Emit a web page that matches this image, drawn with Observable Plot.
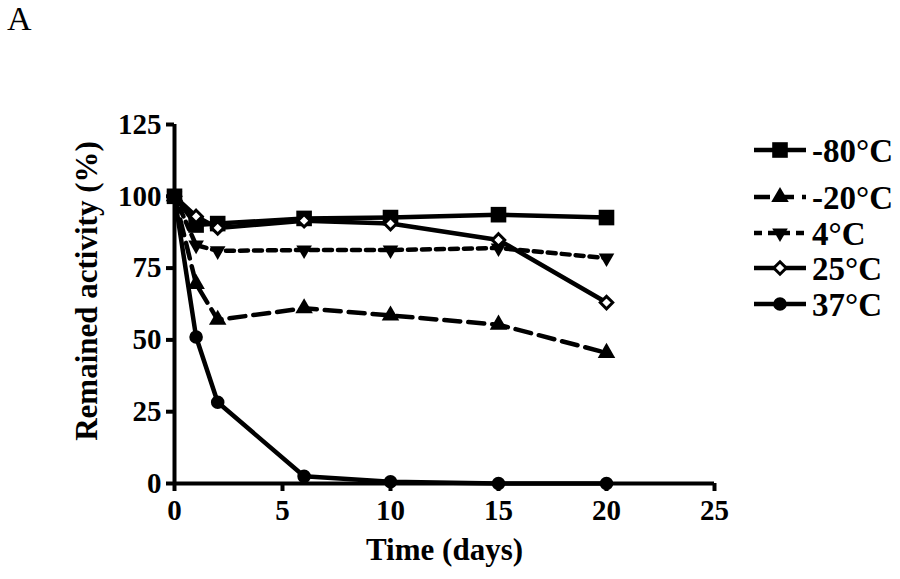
<!DOCTYPE html>
<html><head><meta charset="utf-8">
<script src="https://cdn.jsdelivr.net/npm/d3@7"></script>
<script src="https://cdn.jsdelivr.net/npm/@observablehq/plot@0.6"></script>
<style>
body{margin:0;background:#fff}
#wrap{position:relative;width:900px;height:579px;font-family:"Liberation Serif","Times New Roman",serif}
#panel{position:absolute;left:7px;top:0px;font-size:34px;font-family:"Liberation Serif",serif}
#legend{position:absolute;left:0;top:0}
</style>
</head><body>
<div id="wrap"><div id="panel">A</div></div>
<script>
const days = [0, 1, 2, 6, 10, 15, 20];
const seriesNames = ["-80°C", "-20°C", "4°C", "25°C", "37°C"];
const m80 = [100, 90, 90.5, 92.3, 92.6, 93.6, 92.6];
const m20 = [100, 69.5, 57, 61, 58.5, 55.3, 45.5];
const p4  = [100, 83, 81, 81.3, 81.3, 82, 78.5];
const p25 = [100, 93, 89, 91.5, 90.5, 84.8, 63];
const p37 = [100, 51, 28.3, 2.5, 0.6, 0, 0];
const xTicks = [0, 5, 10, 15, 20, 25];
const yTicks = [0, 25, 50, 75, 100, 125];
const xLabel = "Time (days)";
const yLabel = "Remained activity (%)";

const styles = [
  {values: m80, symbol: "square", dash: null, fill: "black", r: 8.8, rotate: 0},
  {values: m20, symbol: "triangle", dash: "16,8", fill: "black", r: 6.5, rotate: 0},
  {values: p4,  symbol: "triangle", dash: "8,6", fill: "black", r: 5.8, rotate: 180},
  {values: p25, symbol: "diamond2", dash: null, fill: "white", r: 5.6, rotate: 0},
  {values: p37, symbol: "circle", dash: null, fill: "black", r: 6.8, rotate: 0}
];

const data = seriesNames.map((name, i) => days.map((d, j) => ({series: name, day: d, value: styles[i].values[j]})));

const lineMarks = data.map((rows, i) => Plot.line(rows, {x: "day", y: "value", stroke: "black", strokeWidth: 4.5, strokeDasharray: styles[i].dash ?? undefined}));
const dotMarks = data.map((rows, i) => Plot.dot(rows, {x: "day", y: "value", symbol: () => styles[i].symbol, r: styles[i].r, fill: styles[i].fill, stroke: "black", strokeWidth: styles[i].fill === "white" ? 3 : 0, rotate: styles[i].rotate}));

const chart = Plot.plot({
  width: 900, height: 579,
  marginLeft: 174, marginRight: 186, marginTop: 124, marginBottom: 96,
  style: {fontFamily: "Liberation Serif, Times New Roman, serif", fontWeight: "bold", background: "transparent", overflow: "visible"},
  x: {domain: [0, 25]},
  y: {domain: [0, 125]},
  symbol: {type: "identity"},
  marks: [
    Plot.axisX({ticks: xTicks, tickSize: 8, strokeWidth: 4, tickPadding: 8, fontSize: 29, fontWeight: "bold", label: null}),
    Plot.axisY({ticks: yTicks, tickSize: 8, strokeWidth: 4, tickPadding: 5, fontSize: 29, fontWeight: "bold", label: null}),
    Plot.ruleX([0], {strokeWidth: 4}),
    Plot.ruleY([0], {strokeWidth: 4}),
    ...lineMarks,
    ...dotMarks,
    Plot.text([xLabel], {text: d => d, frameAnchor: "bottom", dy: 76, fontSize: 31, fontWeight: "bold", textAnchor: "middle"}),
    Plot.text([yLabel], {text: d => d, frameAnchor: "left", dx: -87, dy: -13, rotate: -90, fontSize: 31, fontWeight: "bold", textAnchor: "middle"})
  ]
});
document.getElementById("wrap").appendChild(chart);

// legend overlay
const legendY = [150, 197, 233, 268, 304];
const svg = d3.select("#wrap").append("svg").attr("id", "legend").attr("width", 900).attr("height", 579);
const symMap = {square: d3.symbolSquare, triangle: d3.symbolTriangle, diamond2: d3.symbolDiamond2, circle: d3.symbolCircle};
seriesNames.forEach((name, i) => {
  const s = styles[i];
  const g = svg.append("g").attr("transform", `translate(0,${legendY[i]})`);
  g.append("line").attr("x1", 754).attr("x2", 806).attr("y1", 0).attr("y2", 0)
    .attr("stroke", "black").attr("stroke-width", 4.5).attr("stroke-dasharray", s.dash);
  g.append("path").attr("d", d3.symbol(symMap[s.symbol], Math.PI * s.r * s.r)())
    .attr("transform", `translate(780,0) rotate(${s.rotate})`)
    .attr("fill", s.fill).attr("stroke", "black").attr("stroke-width", s.fill === "white" ? 3 : 0);
  g.append("text").attr("x", 812).attr("y", 0).attr("dy", "0.35em").text(name)
    .attr("font-size", 33).attr("font-weight", "bold").attr("font-family", "Liberation Serif, serif");
});
</script>
</body></html>
